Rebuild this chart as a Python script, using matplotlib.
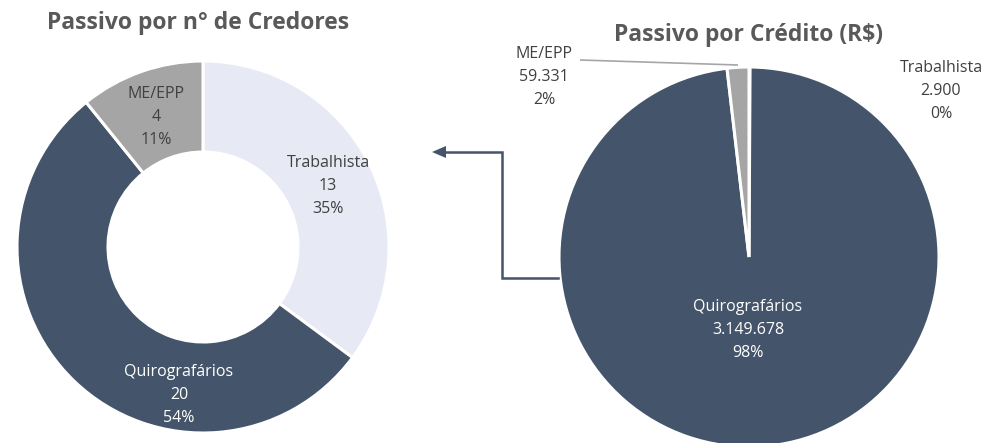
import matplotlib
matplotlib.use('Agg')
import matplotlib.pyplot as plt
from matplotlib.patches import Polygon

# ---- data ----
categories = ['Trabalhista', 'Quirografários', 'ME/EPP']
credores = [13, 20, 4]
credito = [2900, 3149678, 59331]
title_left = 'Passivo por n° de Credores'
title_right = 'Passivo por Crédito (R$)'

# ---- style ----
colors = ['#E7E9F4', '#44546A', '#A5A5A5']
label_colors = ['#404040', 'white', '#404040']
right_label_colors = ['#404040', 'white', '#404040']
FONT = 'Open Sans'
W, H = 1005, 443

fig = plt.figure(figsize=(W / 100, H / 100), dpi=100)
ax = fig.add_axes([0, 0, 1, 1])


def fmt(v):
    return f'{v:,}'.replace(',', '.')


def Y(y):
    return H - y


# left donut
ax.pie(credores, colors=colors, startangle=90, counterclock=False,
       center=(203, Y(247)), radius=186,
       wedgeprops=dict(width=91, edgecolor='white', linewidth=2.2))

# right pie
ax.pie(credito, colors=colors, startangle=90, counterclock=False,
       center=(749, Y(257)), radius=190,
       wedgeprops=dict(edgecolor='white', linewidth=2.2))

ax.set_xlim(0, W)
ax.set_ylim(0, H)
ax.set_aspect('equal')
ax.axis('off')

# labels
tot1 = sum(credores)
left_pos = [(328, 186), (179, 395), (156, 117)]
for cat, v, (x, y), c in zip(categories, credores, left_pos, label_colors):
    ax.text(x, Y(y), f'{cat}\n{v}\n{round(v / tot1 * 100):.0f}%', ha='center', va='center',
            fontsize=11.5, color=c, family=FONT, linespacing=1.62)

tot2 = sum(credito)
right_pos = [(941, 91), (748, 330), (544, 77)]
for cat, v, (x, y), c in zip(categories, credito, right_pos, right_label_colors):
    ax.text(x, Y(y), f'{cat}\n{fmt(v)}\n{round(v / tot2 * 100):.0f}%', ha='center', va='center',
            fontsize=11.5, color=c, family=FONT, linespacing=1.62)

# leader line for ME/EPP
ax.plot([580, 738], [Y(60), Y(65)], color='#A6A6A6', lw=1.2, solid_capstyle='butt')

# titles
ax.text(198, Y(23), title_left, ha='center', va='center', fontsize=16.5, fontweight='bold',
        color='#595959', family=FONT)
ax.text(749, Y(35), title_right, ha='center', va='center', fontsize=16.5, fontweight='bold',
        color='#595959', family=FONT)

# connector arrow
ax.plot([558, 502, 502, 444], [Y(278), Y(278), Y(152), Y(152)], color='#44546A', lw=1.8,
        solid_joinstyle='miter')
ax.add_patch(Polygon([(432, Y(152)), (446, Y(146)), (446, Y(158))], closed=True,
                     color='#44546A', lw=0))

fig.savefig('out.png', dpi=100)
